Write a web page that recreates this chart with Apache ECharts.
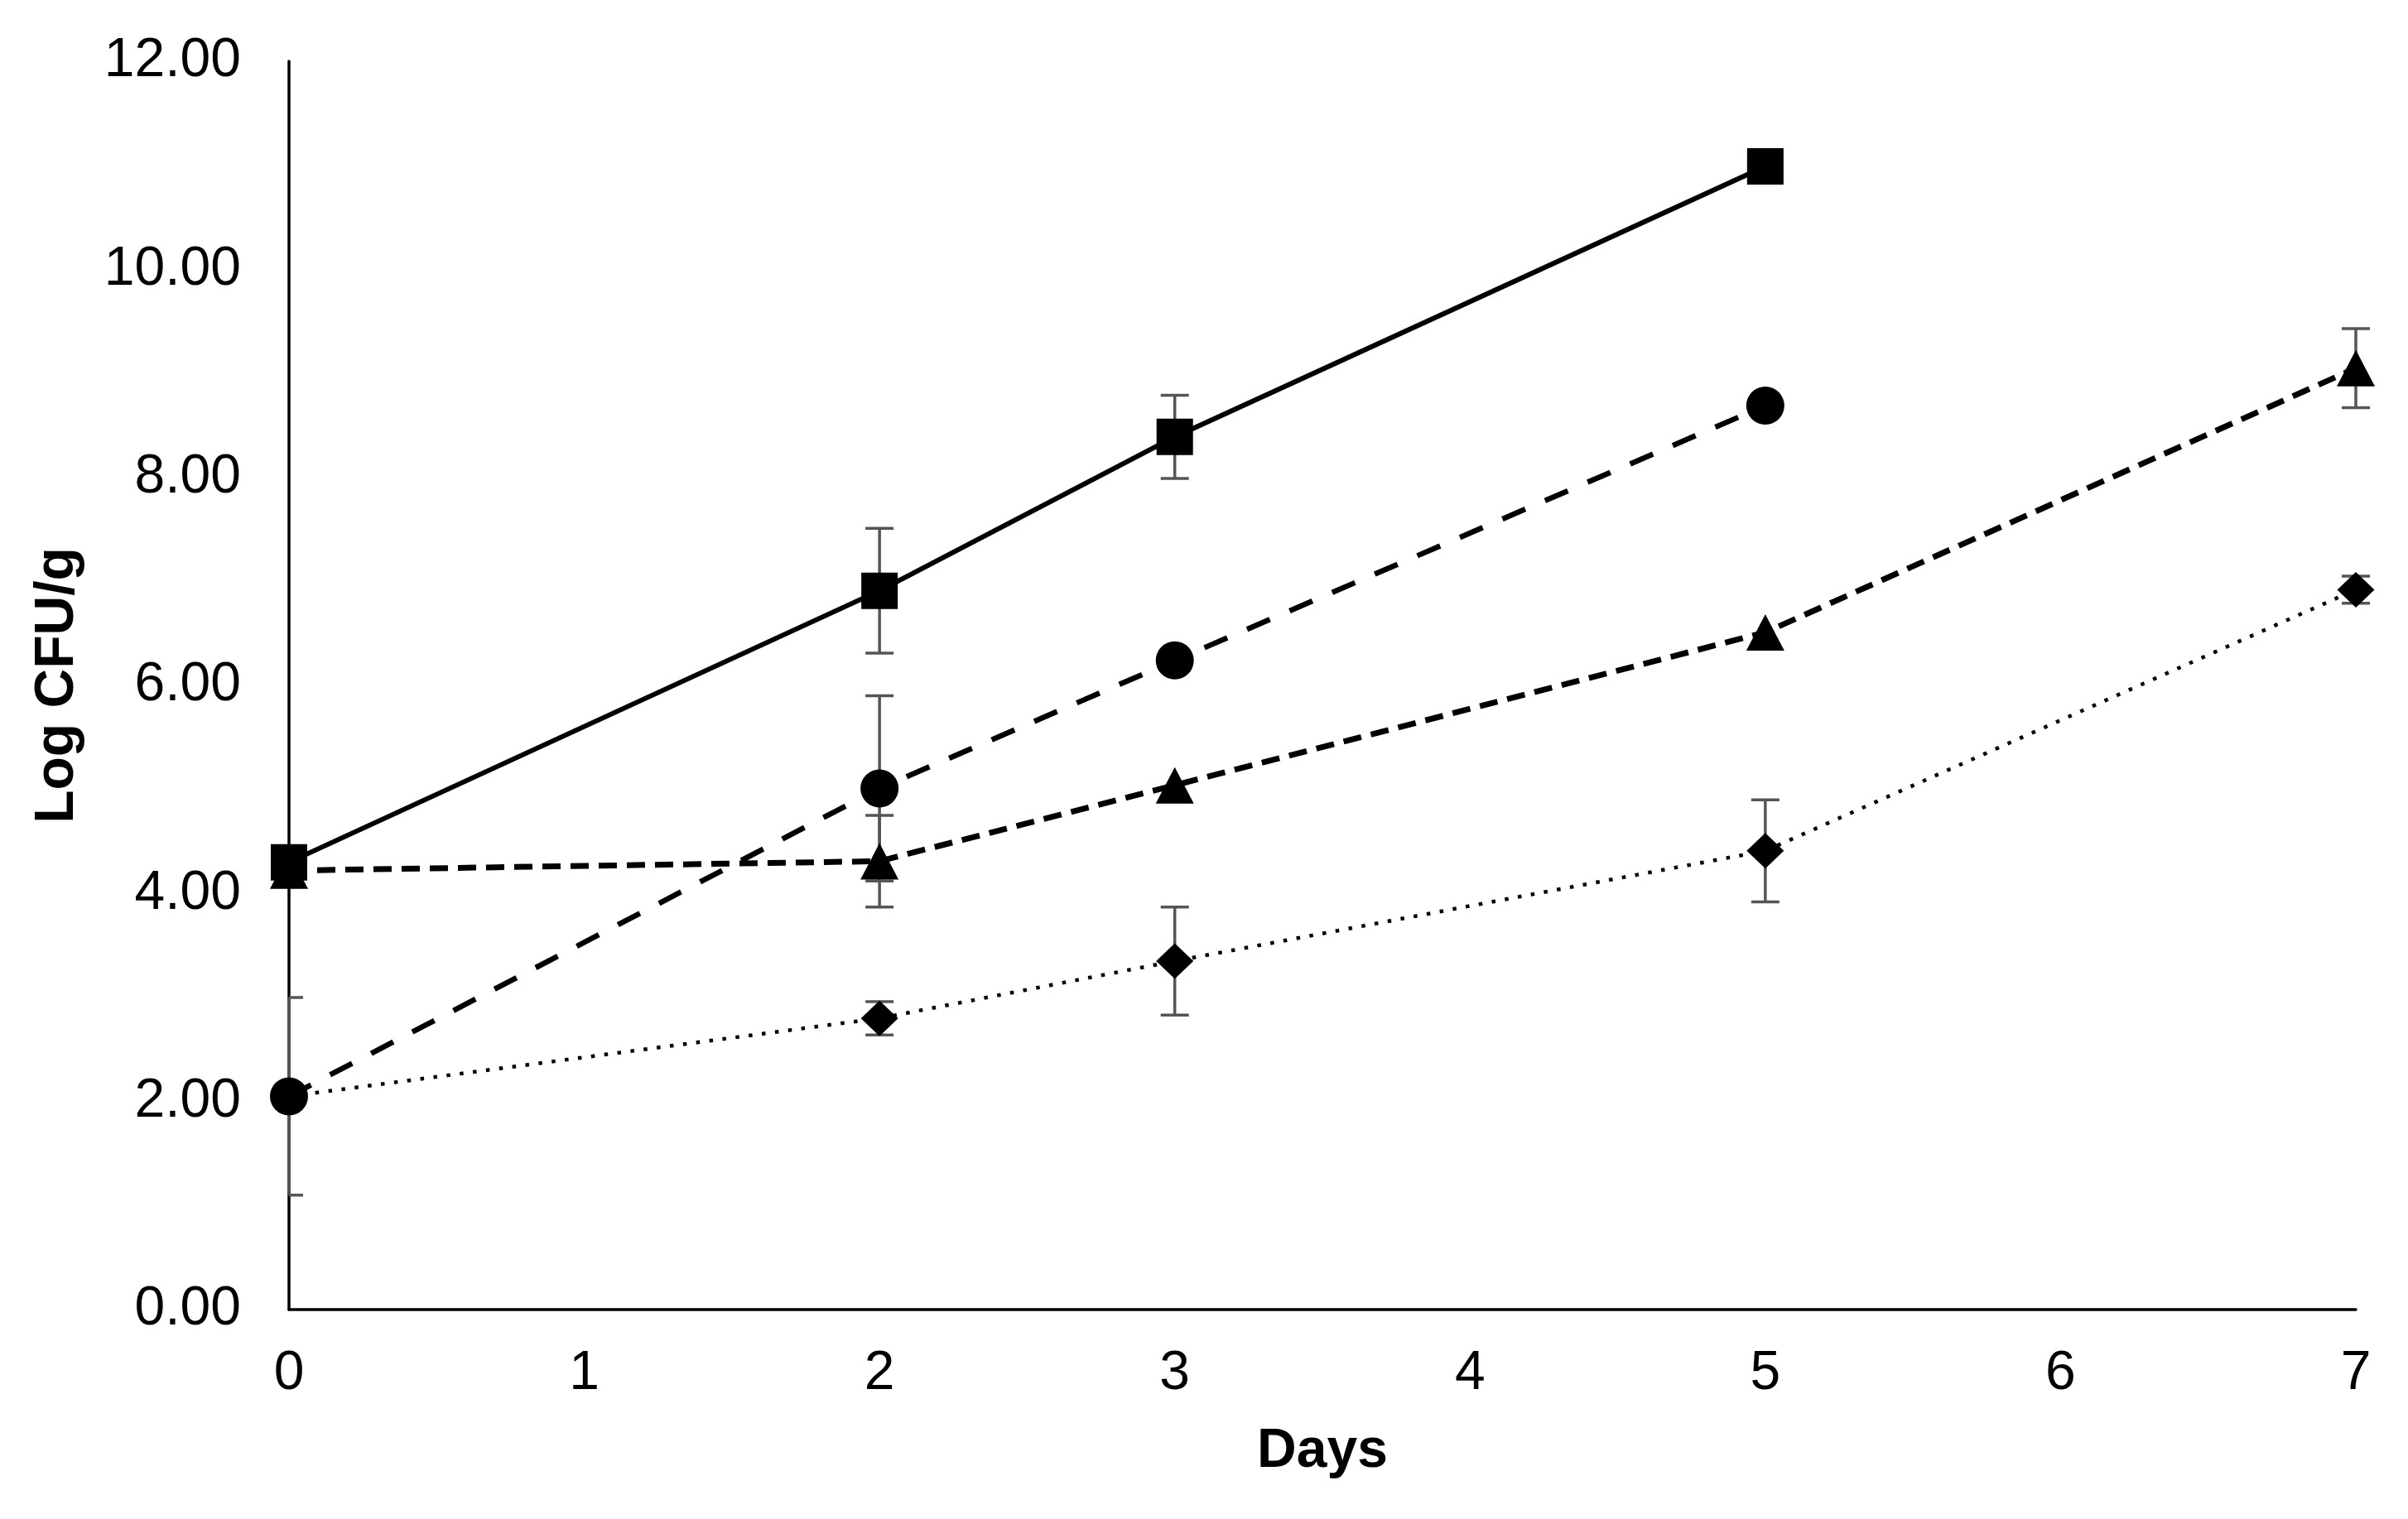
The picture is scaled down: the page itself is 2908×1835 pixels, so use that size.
<!DOCTYPE html>
<html>
<head>
<meta charset="utf-8">
<script src="https://cdn.jsdelivr.net/npm/echarts@6/dist/echarts.min.js"></script>
<style>
html,body{margin:0;padding:0;background:#fff;}
#chart{width:2908px;height:1835px;}
</style>
</head>
<body>
<div id="chart"></div>
<script>
// ---- data ----
var days = [0, 2, 3, 5, 7];
var xTicks = [0, 1, 2, 3, 4, 5, 6, 7];
var yTicks = [0, 2, 4, 6, 8, 10, 12];

var squareVals   = [4.30, 6.91, 8.39, 10.99, null];
var squareErr    = [0,    0.60, 0.40, 0,     null];
var circleVals   = [2.05, 5.01, 6.24, 8.69,  null];
var circleErr    = [0.95, 0.89, 0,    0,     null];
var triangleVals = [4.22, 4.31, 5.04, 6.51,  9.05];
var triangleErr  = [0,    0.44, 0,    0,     0.38];
var diamondVals  = [2.05, 2.80, 3.35, 4.41,  6.92];
var diamondErr   = [0,    0.16, 0.52, 0.49,  0.13];

function pts(vals){
  var out = [];
  for (var i = 0; i < days.length; i++) if (vals[i] !== null) out.push([days[i], vals[i]]);
  return out;
}
function errPts(vals, errs){
  var out = [];
  for (var i = 0; i < days.length; i++) if (vals[i] !== null && errs[i] > 0) out.push([days[i], vals[i], errs[i]]);
  return out;
}

var CAP = 17;
function errRender(params, api){
  var x = api.value(0), y = api.value(1), e = api.value(2);
  var top = api.coord([x, y + e]);
  var bot = api.coord([x, y - e]);
  var cs = params.coordSys;
  var l = Math.max(top[0] - CAP, cs.x);
  var r = top[0] + CAP;
  var st = {stroke: '#555555', lineWidth: 3.5};
  return {
    type: 'group',
    children: [
      {type: 'line', shape: {x1: top[0], y1: top[1], x2: bot[0], y2: bot[1]}, style: st},
      {type: 'line', shape: {x1: l, y1: top[1], x2: r, y2: top[1]}, style: st},
      {type: 'line', shape: {x1: l, y1: bot[1], x2: r, y2: bot[1]}, style: st}
    ]
  };
}
function errSeries(vals, errs){
  return {type: 'custom', renderItem: errRender, data: errPts(vals, errs), z: 1, clip: false, silent: true};
}

var FONT = '"Liberation Sans", Arial, Helvetica, sans-serif';

var chart = echarts.init(document.getElementById('chart'), null, {renderer: 'canvas'});
chart.setOption({
  backgroundColor: '#ffffff',
  animation: false,
  grid: {left: 349, right: 63, top: 74, bottom: 253, containLabel: false},
  xAxis: {
    type: 'value', min: 0, max: 7, interval: 1,
    name: 'Days', nameLocation: 'middle', nameGap: 139,
    nameTextStyle: {fontFamily: FONT, fontSize: 66, fontWeight: 'bold', color: '#000'},
    axisLine: {show: true, lineStyle: {color: '#000', width: 3.5}},
    axisTick: {show: false},
    splitLine: {show: false},
    axisLabel: {fontFamily: FONT, fontSize: 66, color: '#000', margin: 45,
      formatter: function(v){ return xTicks.indexOf(v) >= 0 ? String(v) : ''; }}
  },
  yAxis: {
    type: 'value', min: 0, max: 12, interval: 2,
    name: 'Log CFU/g', nameLocation: 'middle', nameGap: 246,
    nameTextStyle: {fontFamily: FONT, fontSize: 66, fontWeight: 'bold', color: '#000'},
    axisLine: {show: true, lineStyle: {color: '#000', width: 3.5}},
    axisTick: {show: false},
    splitLine: {show: false},
    axisLabel: {fontFamily: FONT, fontSize: 66, color: '#000', margin: 58,
      formatter: function(v){ return yTicks.indexOf(v) >= 0 ? v.toFixed(2) : ''; }}
  },
  series: [
    errSeries(diamondVals, diamondErr),
    errSeries(triangleVals, triangleErr),
    errSeries(circleVals, circleErr),
    errSeries(squareVals, squareErr),
    {
      name: 'Diamond', type: 'line', data: pts(diamondVals), z: 3,
      symbol: 'diamond', symbolSize: [45, 43], showAllSymbol: true,
      itemStyle: {color: '#000'},
      lineStyle: {color: '#000', width: 4.5, type: [4.5, 11.5], cap: 'butt'}
    },
    {
      name: 'Triangle', type: 'line', data: pts(triangleVals), z: 4,
      symbol: 'triangle', symbolSize: [46, 44], showAllSymbol: true,
      itemStyle: {color: '#000'},
      lineStyle: {color: '#000', width: 7, type: [22, 12]}
    },
    {
      name: 'Circle', type: 'line', data: pts(circleVals), z: 5,
      symbol: 'circle', symbolSize: 46, showAllSymbol: true,
      itemStyle: {color: '#000'},
      lineStyle: {color: '#000', width: 6.5, type: [30, 26]}
    },
    {
      name: 'Square', type: 'line', data: pts(squareVals), z: 6,
      symbol: 'rect', symbolSize: 44, showAllSymbol: true,
      itemStyle: {color: '#000'},
      lineStyle: {color: '#000', width: 6, type: 'solid'}
    }
  ]
});
</script>
</body>
</html>
